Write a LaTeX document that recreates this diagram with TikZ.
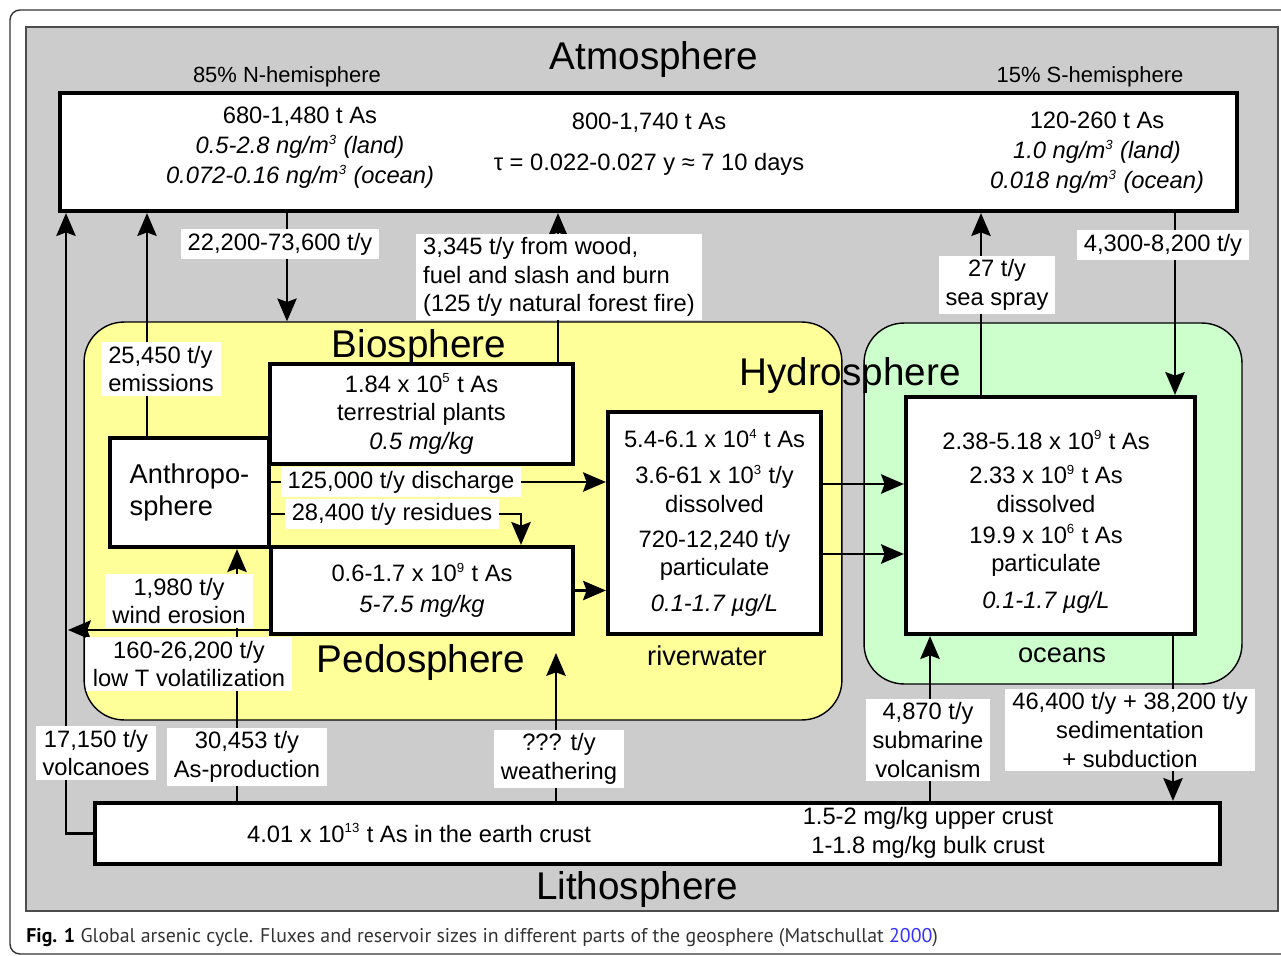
\documentclass[tikz,border=0pt]{standalone}
\usepackage{fontspec}
\setmainfont{Liberation Sans}
\newfontfamily\capfont{PT Sans}
\usetikzlibrary{arrows.meta}
\definecolor{panelgray}{HTML}{CCCCCC}
\definecolor{soilyellow}{HTML}{FFFF99}
\definecolor{seagreen}{HTML}{CCFFCC}
\definecolor{linkblue}{HTML}{3333FF}
\newcommand\pw[1]{\textsuperscript{\fontsize{7.5}{8}\selectfont #1}}
\begin{document}
\begin{tikzpicture}[
x=0.02cm,y=-0.02cm,
every node/.style={font=\fontsize{13.5}{16.3}\selectfont},
res/.style={draw,line width=2.4pt,fill=white,inner sep=0pt,align=center},
region/.style={draw,line width=0.8pt,rounded corners=0.8cm,inner sep=0pt},
sphere/.style={font=\fontsize{22}{26}\selectfont},
hemi/.style={font=\fontsize{12.5}{15}\selectfont},
flux/.style={fill=white,inner xsep=4pt,inner ysep=2pt,align=center},
arr/.style={line width=1.4pt,-{Stealth[length=13pt,width=11pt,inset=2pt]}},
]
\useasboundingbox (0,0) rectangle (1281,956);
\draw[line width=0.8pt,draw=black!80,rounded corners=0.2cm] (10,10) rectangle (1320,954);
\draw[fill=panelgray,draw=black!70,line width=0.8pt] (26,27) rectangle (1278,911);

\node[region,fill=soilyellow,minimum width=15.16cm,minimum height=7.96cm] (yellow) at (463,521) {};
\node[region,fill=seagreen,minimum width=7.56cm,minimum height=7.22cm] (green) at (1053,503.5) {};

\node[sphere] (tAtmo) at (654,60) {Atmosphere};
\node[sphere] (tBio) at (419,348) {Biosphere};
\node[sphere] (tHydro) at (850,376) {Hydrosphere};
\node[sphere] (tPedo) at (421,663) {Pedosphere};
\node[sphere] (tLitho) at (637,889) {Lithosphere};
\node[hemi] (north) at (287,77) {85\% N-hemisphere};
\node[hemi] (south) at (1090,77) {15\% S-hemisphere};
\node[font=\fontsize{15.5}{18}\selectfont] (lRiver) at (707,656) {riverwater};
\node[font=\fontsize{15.5}{18}\selectfont] (lOcean) at (1062,655) {oceans};

\node[res,minimum width=23.54cm,minimum height=2.36cm] (atmo) at (648.5,152) {};
\node[align=center,font=\fontsize{13.5}{17}\selectfont] (atmoN) at (300,148)
  {680-1,480 t As\\\textit{0.5-2.8 ng/m\pw{3} (land)}\\\textit{0.072-0.16 ng/m\pw{3} (ocean)}};
\node[align=center,font=\fontsize{13.5}{17}\selectfont] (atmoT) at (649,144)
  {800-1,740 t As\\[6pt]τ = 0.022-0.027 y ≈ 7 10 days};
\node[align=center,font=\fontsize{13.5}{17}\selectfont] (atmoS) at (1097,153)
  {120-260 t As\\\textit{1.0 ng/m\pw{3} (land)}\\\textit{0.018 ng/m\pw{3} (ocean)}};

\node[res,align=left,minimum width=3.18cm,minimum height=2.18cm,font=\fontsize{15.5}{18.7}\selectfont] (anthro) at (189.5,492.5) {Anthropo-\\sphere};
\node[res,minimum width=6.06cm,minimum height=2cm] (plants) at (421.5,414)
  {1.84 x 10\pw{5} t As\\terrestrial plants\\\textit{0.5 mg/kg}};
\node[res,minimum width=6.04cm,minimum height=1.74cm] (soil) at (422,590.5)
  {0.6-1.7 x 10\pw{9} t As\\[1.5pt]\textit{5-7.5 mg/kg}};
\node[res,minimum width=4.26cm,minimum height=4.44cm] (river) at (714.5,523)
  {5.4-6.1 x 10\pw{4} t As\\[4pt]3.6-61 x 10\pw{3} t/y\\dissolved\\[3.5pt]720-12,240 t/y\\particulate\\[4pt]\textit{0.1-1.7 µg/L}};
\node[res,minimum width=5.78cm,minimum height=4.74cm] (ocean) at (1050.5,515.5) {};
\node[align=center] (oceanTxt) at (1046,522)
  {2.38-5.18 x 10\pw{9} t As\\[3.4pt]2.33 x 10\pw{9} t As\\dissolved\\[1.2pt]19.9 x 10\pw{6} t As\\particulate\\[4.6pt]\textit{0.1-1.7 µg/L}};
\node[res,minimum width=22.5cm,minimum height=1.22cm] (litho) at (657.5,833.5) {};
\node (crust) at (419,833) {4.01 x 10\pw{13} t As in the earth crust};
\node[align=center] (crustC) at (928,833) {1.5-2 mg/kg upper crust\\1-1.8 mg/kg bulk crust};

\coordinate (xvolc) at (66,0);
\coordinate (xemis) at (147,0);
\coordinate (xwind) at (237,0);
\coordinate (xdepo) at (287,0);
\coordinate (xresid) at (521,0);
\coordinate (xfire) at (558,0);
\coordinate (xsubm) at (930,0);
\coordinate (xspray) at (981,0);
\coordinate (xsedi) at (1173,0);
\coordinate (xrain) at (1175,0);
\coordinate (ydisc) at (0,482);
\coordinate (yresid) at (0,514);
\coordinate (ydiss) at (0,484);
\coordinate (ypart) at (0,554);
\coordinate (volattip) at (68,630);
\coordinate (weathtip) at (556,653);

\draw[arr] (litho.west) -| (atmo.south -| xvolc);
\draw[arr] (anthro.north -| xemis) -- (atmo.south -| xemis);
\draw[arr] (atmo.south -| xdepo) -- (yellow.north -| xdepo);
\draw[arr] (plants.north -| xfire) -- (atmo.south -| xfire);
\draw[arr] (ocean.north -| xspray) -- (atmo.south -| xspray);
\draw[arr] (atmo.south -| xrain) -- (ocean.north -| xrain);
\draw[arr] (anthro.east |- ydisc) -- (river.west |- ydisc);
\draw[arr] (anthro.east |- yresid) -| (soil.north -| xresid);
\draw[arr] (soil.east) -- (soil.east -| river.west);
\draw[arr] (river.east |- ydiss) -- (ocean.west |- ydiss);
\draw[arr] (river.east |- ypart) -- (ocean.west |- ypart);
\draw[arr] (litho.north -| xwind) -- (anthro.south -| xwind);
\draw[arr] (soil.west |- volattip) -- (volattip);
\draw[arr] (litho.north -| weathtip) -- (weathtip);
\draw[arr] (litho.north -| xsubm) -- (ocean.south -| xsubm);
\draw[arr] (ocean.south -| xsedi) -- (litho.north -| xsedi);

\node[flux,align=left] (fEmis) at (161,369) {25,450 t/y\\emissions};
\node[flux] (fDepo) at (280,244) {22,200-73,600 t/y};
\node[flux,align=left] (fFire) at (559,277) {3,345 t/y from wood,\\fuel and slash and burn\\(125 t/y natural forest fire)};
\node[flux] (fSpray) at (997,285) {27 t/y\\sea spray};
\node[flux] (fRain) at (1163,245) {4,300-8,200 t/y};
\node[flux] (fDisc) at (401,482) {125,000 t/y discharge};
\node[flux] (fResid) at (392,514) {28,400 t/y residues};
\node[flux] (fWind) at (179,601) {1,980 t/y\\wind erosion};
\node[flux] (fVolat) at (189,664) {160-26,200 t/y\\low T volatilization};
\node[flux] (fVolc) at (96,753) {17,150 t/y\\volcanoes};
\node[flux] (fProd) at (247,757) {30,453 t/y\\As-production};
\node[flux] (fWeath) at (559,759) {??? t/y\\weathering};
\node[flux] (fSubm) at (928,740) {4,870 t/y\\submarine\\volcanism};
\node[flux] (fSedi) at (1130,730) {46,400 t/y + 38,200 t/y\\sedimentation\\+ subduction};

\node[anchor=west,inner sep=0pt,text=black!80,font=\capfont\fontsize{11.3}{13}\selectfont] (caption) at (26,938)
  {\textbf{\color{black}Fig. 1} Global arsenic cycle. Fluxes and reservoir sizes in different parts of the geosphere (Matschullat \textcolor{linkblue}{2000})};
\end{tikzpicture}
\end{document}
